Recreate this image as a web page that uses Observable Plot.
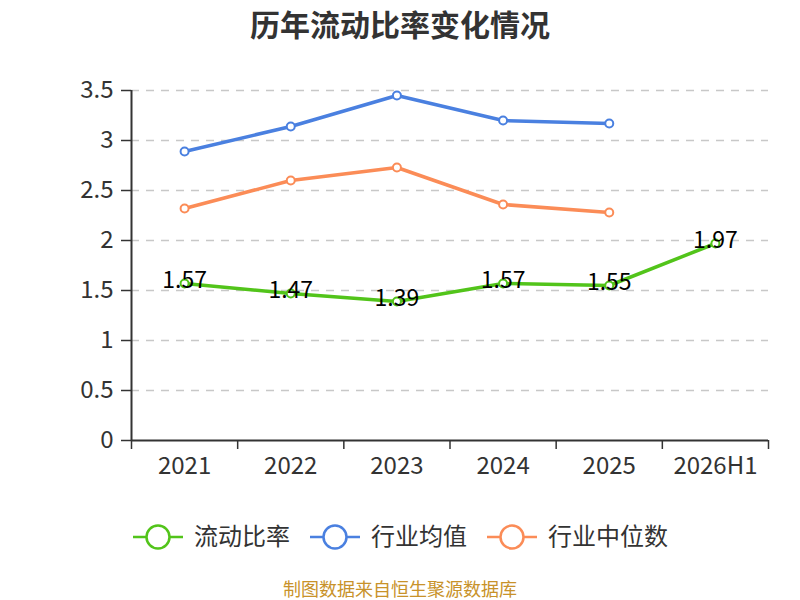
<!DOCTYPE html>
<html>
<head>
<meta charset="utf-8">
<script src="https://cdn.jsdelivr.net/npm/d3@7"></script>
<script src="https://cdn.jsdelivr.net/npm/@observablehq/plot@0.6"></script>
<style>
  body { margin: 0; background: #fff; font-family: "Noto Sans CJK SC", "Noto Sans", sans-serif; }
  #wrap { position: relative; width: 800px; height: 600px; overflow: hidden; }
  #title { position: absolute; top: 0; left: 0; width: 800px; text-align: center; font-size: 30px; font-weight: bold; color: #333; line-height: 46px; }
  #chart { position: absolute; top: 60px; left: 0; }
  #legend { position: absolute; top: 518px; left: 0; width: 800px; height: 40px; }
  #caption { position: absolute; top: 579px; left: 0; width: 800px; text-align: center; font-size: 18px; color: #c8922a; line-height: 19px; }
</style>
</head>
<body>
<div id="wrap">
  <div id="title">历年流动比率变化情况</div>
  <div id="chart"></div>
  <div id="legend"></div>
  <div id="caption">制图数据来自恒生聚源数据库</div>
</div>
<script>
const categories = ["2021", "2022", "2023", "2024", "2025", "2026H1"];
const currentRatio = [1.57, 1.47, 1.39, 1.57, 1.55, 1.97];
const industryMean = [2.89, 3.14, 3.45, 3.20, 3.17];
const industryMedian = [2.32, 2.60, 2.73, 2.36, 2.28];
const yTicks = [0, 0.5, 1, 1.5, 2, 2.5, 3, 3.5];
const seriesNames = ["流动比率", "行业均值", "行业中位数"];
const colors = ["#52c41a", "#4a80e0", "#fb8c57"];

const toRows = (vals, s) => vals.map((v, i) => ({ i: i + 0.5, cat: categories[i], v, s }));
const green = toRows(currentRatio, seriesNames[0]);
const blue = toRows(industryMean, seriesNames[1]);
const orange = toRows(industryMedian, seriesNames[2]);

const font = "Noto Sans CJK SC";
const chart = Plot.plot({
  width: 800,
  height: 430,
  marginTop: 30,
  marginBottom: 50,
  marginLeft: 131,
  marginRight: 32,
  style: { fontFamily: font, background: "#fff" },
  x: { type: "linear", domain: [0, categories.length], axis: null },
  y: { domain: [0, 3.5], axis: null },
  marks: [
    Plot.ruleY(yTicks.filter(d => d > 0), { stroke: "#c8c8c8", strokeWidth: 1.5, strokeDasharray: "8,7" }),
    Plot.axisY({ ticks: yTicks, tickSize: 10, tickPadding: 8, tickFormat: d => String(d), fontSize: 24, color: "#333", stroke: "#333", strokeWidth: 1.5, label: null }),
    Plot.ruleX([0], { stroke: "#333", strokeWidth: 2 }),
    Plot.ruleY([0], { stroke: "#333", strokeWidth: 2 }),
    Plot.axisX({ ticks: d3.range(categories.length + 1), tickSize: 9, tickFormat: () => "", stroke: "#333", strokeWidth: 1.5, label: null }),
    Plot.text(green, { x: "i", y: 0, text: "cat", dy: 26, fontSize: 24, fill: "#333", lineAnchor: "middle" }),
    Plot.line(blue, { x: "i", y: "v", stroke: colors[1], strokeWidth: 3.5 }),
    Plot.dot(blue, { x: "i", y: "v", r: 4, fill: "#fff", stroke: colors[1], strokeWidth: 2 }),
    Plot.line(orange, { x: "i", y: "v", stroke: colors[2], strokeWidth: 3.5 }),
    Plot.dot(orange, { x: "i", y: "v", r: 4, fill: "#fff", stroke: colors[2], strokeWidth: 2 }),
    Plot.line(green, { x: "i", y: "v", stroke: colors[0], strokeWidth: 3.5 }),
    Plot.dot(green, { x: "i", y: "v", r: 4, fill: "#fff", stroke: colors[0], strokeWidth: 2 }),
    Plot.text(green, { x: "i", y: "v", text: d => d.v.toFixed(2), dy: -3, fontSize: 23, fill: "#000", lineAnchor: "middle" })
  ]
});
document.getElementById("chart").appendChild(chart);

// Legend
const legendItems = [
  { x: 133, tx: 194 },
  { x: 310, tx: 371 },
  { x: 487, tx: 548 }
];
const lg = d3.select("#legend").append("svg").attr("width", 800).attr("height", 40);
legendItems.forEach((p, k) => {
  const g = lg.append("g");
  g.append("line").attr("x1", p.x).attr("x2", p.x + 50).attr("y1", 19).attr("y2", 19)
    .attr("stroke", colors[k]).attr("stroke-width", 2.5);
  g.append("circle").attr("cx", p.x + 25).attr("cy", 19).attr("r", 11.5)
    .attr("fill", "#fff").attr("stroke", colors[k]).attr("stroke-width", 2.5);
  g.append("text").attr("x", p.tx).attr("y", 19).attr("dy", "0.35em")
    .attr("font-size", 24).attr("fill", "#333").attr("font-family", font).text(seriesNames[k]);
});
</script>
</body>
</html>
